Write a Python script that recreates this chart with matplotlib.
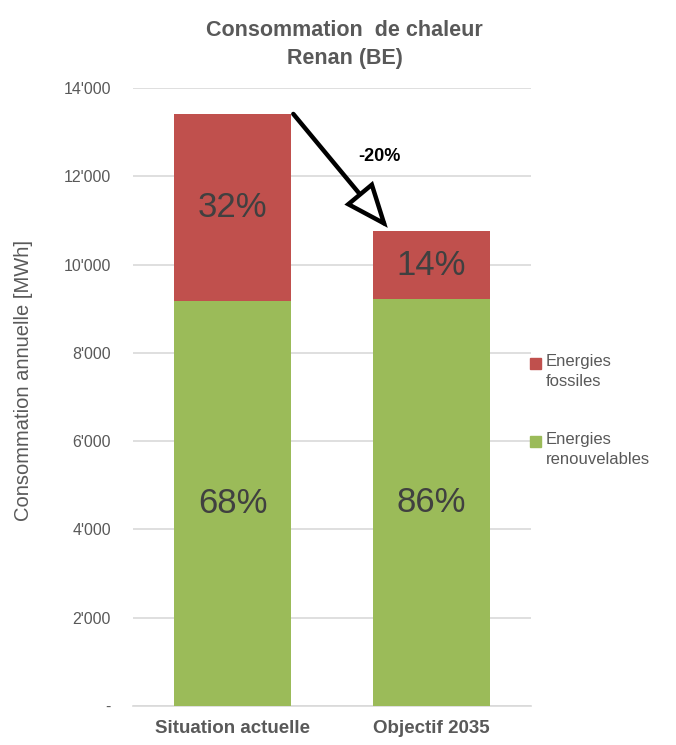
import matplotlib
matplotlib.use("Agg")
import matplotlib.pyplot as plt
from matplotlib.patches import FancyArrowPatch, Rectangle
import numpy as np

categories = ["Situation actuelle", "Objectif 2035"]
renouvelables = [9180, 9210]
fossiles = [4230, 1540]
pct_renouv = ["68%", "86%"]
pct_fossiles = ["32%", "14%"]
yticks = [0, 2000, 4000, 6000, 8000, 10000, 12000, 14000]
legend_labels = ["Energies\nfossiles", "Energies\nrenouvelables"]
title = "Consommation  de chaleur\nRenan (BE)"
ylabel = "Consommation annuelle [MWh]"
reduction_label = "-20%"

RED = "#C0504D"
GREEN = "#9BBB59"
GRAY = "#595959"
GRID = "#D9D9D9"

regular = ["Liberation Sans", "DejaVu Sans"]

fig = plt.figure(figsize=(6.76, 7.45), dpi=100)
ax = fig.add_axes([0.197, 0.0523, 0.5885, 0.8297])

x = np.arange(len(categories))
width = 0.59
ax.bar(x, renouvelables, width, color=GREEN, zorder=3)
ax.bar(x, fossiles, width, bottom=renouvelables, color=RED, zorder=3)

for i in range(len(categories)):
    ax.text(x[i], renouvelables[i] / 2, pct_renouv[i], ha="center", va="center",
            fontsize=25, color="#404040", family=regular, zorder=4)
    ax.text(x[i], renouvelables[i] + fossiles[i] / 2, pct_fossiles[i], ha="center",
            va="center", fontsize=25, color="#404040", family=regular, zorder=4)

ax.set_xlim(-0.5, 1.5)
ax.set_ylim(0, 14000)
ax.set_yticks(yticks)
ax.set_yticklabels(["-" if v == 0 else f"{v:,}".replace(",", "'") for v in yticks],
                   family=regular, fontsize=11.5, color=GRAY)
ax.set_xticks(x)
ax.set_xticklabels(categories, family=regular, fontsize=13.5, fontweight="bold",
                   color=GRAY)
ax.tick_params(axis="y", length=0, pad=16)
ax.tick_params(axis="x", length=0, pad=10)
ax.yaxis.grid(True, color=GRID, lw=1.2, zorder=0)
for s in ["top", "right", "left"]:
    ax.spines[s].set_visible(False)
ax.spines["bottom"].set_color(GRID)
ax.spines["bottom"].set_linewidth(1.2)
ax.set_ylabel(ylabel, family=regular, fontsize=14.5, color=GRAY)
ax.yaxis.set_label_coords(-0.252, 0.527)

# arrow between totals
totals = [r + f for r, f in zip(renouvelables, fossiles)]
arr = FancyArrowPatch((x[0] + width / 2 + 0.01, totals[0]),
                      (x[1] - 0.22, totals[1] + 80),
                      connectionstyle="arc3,rad=0",
                      arrowstyle="-|>,head_length=27,head_width=11",
                      facecolor="white", edgecolor="black", lw=3.2, zorder=5,
                      clip_on=False, shrinkA=0, shrinkB=0, joinstyle="miter")
ax.add_patch(arr)
ax.text(0.74, 12450, reduction_label, ha="center", va="center", fontsize=13,
        fontweight="bold", color="black", family=regular, zorder=6)

# title
fig.text(0.51, 0.94, title, ha="center", va="center", fontsize=15.5,
         fontweight="bold", color=GRAY, family=regular, linespacing=1.45)

# legend (square next to the first line of each label)
W, H = 676.0, 745.0
leg_items = [(RED, legend_labels[0], 358), (GREEN, legend_labels[1], 436)]
for color, label, ytop in leg_items:
    fig.patches.append(Rectangle((530 / W, 1 - (ytop + 11) / H), 11 / W, 11 / H,
                                 transform=fig.transFigure, color=color, figure=fig))
    fig.text(546 / W, 1 - (ytop - 4) / H, label, ha="left", va="top",
             fontsize=12, color=GRAY, family=regular, linespacing=1.4)

fig.savefig("out.png", dpi=100)
